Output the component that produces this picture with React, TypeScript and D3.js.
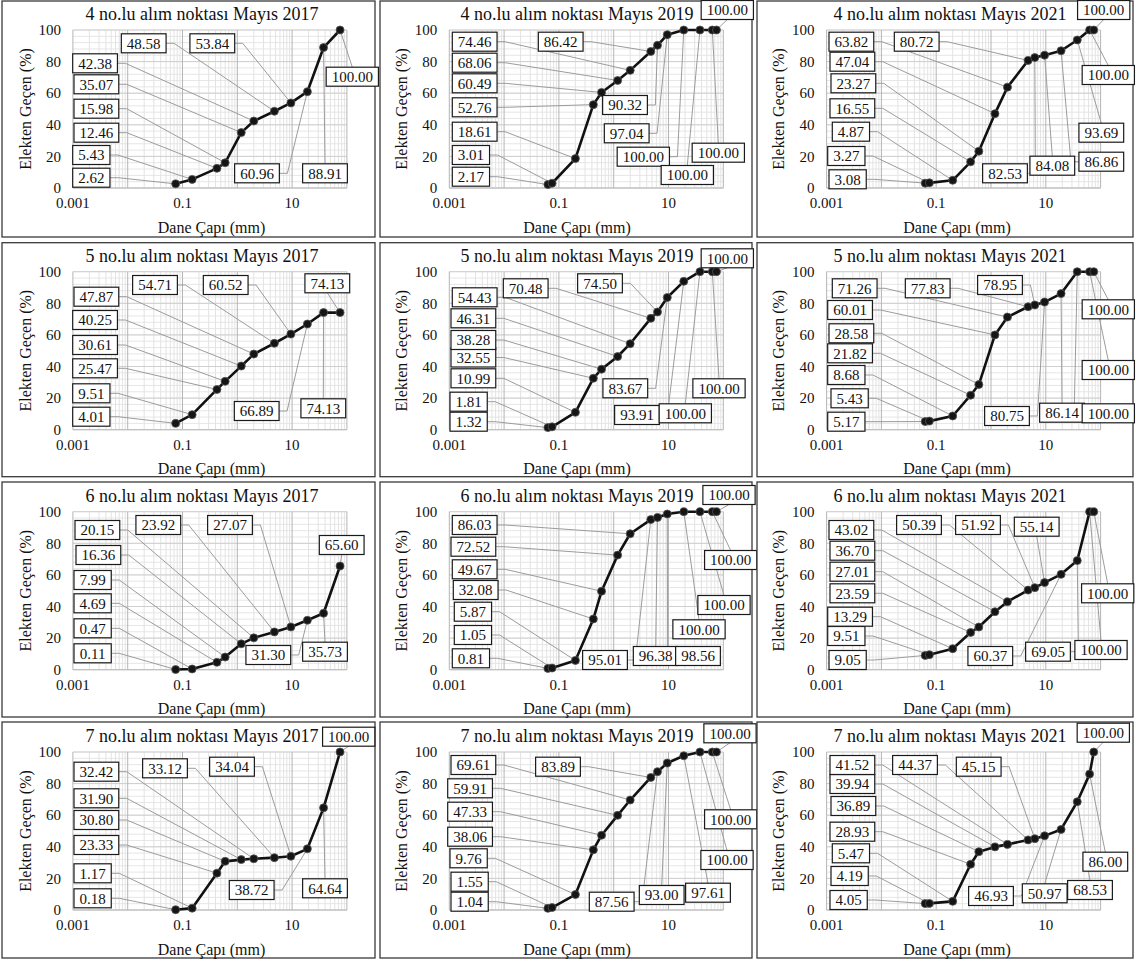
import React from "react";
import * as d3 from "d3";

// ---------- DATA ----------
const STATIONS = ["4", "5", "6", "7"];
const YEARS = ["2017", "2019", "2021"];

// sieve openings (mm)
const SIEVES_2017 = [0.075, 0.15, 0.425, 0.6, 1.18, 2, 4.75, 9.5, 19, 37.5, 75];
const SIEVES_2019_2021 = [0.063, 0.075, 0.2, 0.425, 0.6, 1.18, 2, 4.75, 6.3, 9.5, 19, 37.5, 63, 75];

const P4_2017 = [2.62, 5.43, 12.46, 15.98, 35.07, 42.38, 48.58, 53.84, 60.96, 88.91, 100.0];
const P4_2019 = [2.17, 3.01, 18.61, 52.76, 60.49, 68.06, 74.46, 86.42, 90.32, 97.04, 100, 100, 100, 100];
const P4_2021 = [3.08, 3.27, 4.87, 16.55, 23.27, 47.04, 63.82, 80.72, 82.53, 84.08, 86.86, 93.69, 100, 100];
const P5_2017 = [4.01, 9.51, 25.47, 30.61, 40.25, 47.87, 54.71, 60.52, 66.89, 74.13, 74.13];
const P5_2019 = [1.32, 1.81, 10.99, 32.55, 38.28, 46.31, 54.43, 70.48, 74.5, 83.67, 93.91, 100, 100, 100];
const P5_2021 = [5.17, 5.43, 8.68, 21.82, 28.58, 60.01, 71.26, 77.83, 78.95, 80.75, 86.14, 100, 100, 100];
const P6_2017 = [0.11, 0.47, 4.69, 7.99, 16.36, 20.15, 23.92, 27.07, 31.3, 35.73, 65.6];
const P6_2019 = [0.81, 1.05, 5.87, 32.08, 49.67, 72.52, 86.03, 95.01, 96.38, 98.56, 100, 100, 100, 100];
const P6_2021 = [9.05, 9.51, 13.29, 23.59, 27.01, 36.7, 43.02, 50.39, 51.92, 55.14, 60.37, 69.05, 100, 100];
const P7_2017 = [0.18, 1.17, 23.33, 30.8, 31.9, 32.42, 33.12, 34.04, 38.72, 64.64, 100];
const P7_2019 = [1.04, 1.55, 9.76, 38.06, 47.33, 59.91, 69.61, 83.89, 87.56, 93.0, 97.61, 100, 100, 100];
const P7_2021 = [4.05, 4.19, 5.47, 28.93, 36.89, 39.94, 41.52, 44.37, 45.15, 46.93, 50.97, 68.53, 86.0, 100];

const SERIES = [
  [P4_2017, P4_2019, P4_2021],
  [P5_2017, P5_2019, P5_2021],
  [P6_2017, P6_2019, P6_2021],
  [P7_2017, P7_2019, P7_2021],
];

const Y_TICKS = [0, 20, 40, 60, 80, 100];
const X_TICKS = [0.001, 0.1, 10];
const X_TICK_LABELS = ["0.001", "0.1", "10"];

// ---------- LAYOUT (data-label placement, panel-relative px) ----------
type Lab = [number, number, number, string?];
const LABELS: Lab[][][] = [
  [
    [[0, 72.7, 177.7, "l"], [1, 72.7, 155, "l"], [2, 74, 132.7, "l"], [3, 74, 108.7, "l"], [4, 74, 84.3, "l"], [5, 72.7, 63.3, "l"], [6, 143.7, 43.3], [7, 212.3, 43.3], [8, 257, 173.3], [9, 325, 173.3], [10, 352.3, 76.7]],
    [[0, 77.3, 176.7, "l"], [1, 77.3, 155, "l"], [2, 77.3, 131.7, "l"], [3, 77.3, 107.3, "l"], [4, 77.3, 83.3, "l"], [5, 77.3, 62.7, "l"], [6, 77.3, 41.7, "l"], [7, 185.7, 41.7], [8, 250, 105], [9, 251.7, 133.3], [10, 268.3, 156.7], [11, 312.3, 175], [12, 343.3, 152.7], [13, 352.3, 10]],
    [[0, 74, 179.3, "l"], [1, 72.7, 156, "l"], [2, 77.3, 131.7, "l"], [3, 75, 108.3, "l"], [4, 76, 83.3, "l"], [5, 75, 61.7, "l"], [6, 74, 41.7, "l"], [7, 161.7, 41.7], [8, 250, 173.3], [9, 297.3, 165.7], [10, 346.3, 161.7], [11, 346.3, 132.7], [12, 353.3, 75], [13, 348.7, 10]],
  ],
  [
    [[0, 72.7, 176.7, "l"], [1, 72.7, 153.3, "l"], [2, 72.7, 128.3, "l"], [3, 72.7, 105, "l"], [4, 72.7, 80, "l"], [5, 74, 56.7, "l"], [6, 155, 45], [7, 225.7, 45], [8, 256.7, 171], [9, 323.3, 168.3], [10, 327.3, 43.3]],
    [[0, 75, 181.7, "l"], [1, 75, 161.7, "l"], [2, 76, 138.3, "l"], [3, 76, 117.5, "l"], [4, 76, 100, "l"], [5, 76, 78.3, "l"], [6, 77.3, 57.3, "l"], [7, 150.7, 48.3], [8, 225, 43.3], [9, 250.3, 148.3], [10, 262, 175], [11, 310.3, 173.3], [12, 344, 148.3], [13, 352.3, 18.3]],
    [[0, 72.7, 181.7, "l"], [1, 76, 158.3, "l"], [2, 72.7, 135, "l"], [3, 72.7, 113.3, "l"], [4, 74, 93.3, "l"], [5, 72.7, 70, "l"], [6, 77.3, 48.3, "l"], [7, 172.7, 48.3], [8, 245, 45], [9, 252, 176], [10, 307, 172.7], [11, 353.3, 173.3], [12, 353.3, 130], [13, 353.3, 69.3]],
  ],
  [
    [[0, 74, 173.3, "l"], [1, 74, 148.3, "l"], [2, 74, 123.3, "l"], [3, 74, 100, "l"], [4, 76, 75, "l"], [5, 75, 50, "l"], [6, 158.3, 45], [7, 230, 45], [8, 268.3, 175], [9, 325, 171.7], [10, 341.7, 65]],
    [[0, 77.3, 178.3, "l"], [1, 79.3, 155, "l"], [2, 79.3, 131.7, "l"], [3, 78.3, 110, "l"], [4, 77.3, 89.3, "l"], [5, 76, 66.7, "l"], [6, 77.3, 45, "l"], [7, 230, 180], [8, 280.7, 176], [9, 323, 176], [10, 324, 149.3], [11, 349, 125], [12, 355.7, 80], [13, 354, 15]],
    [[0, 74, 180, "l"], [1, 72.7, 156, "l"], [2, 72.7, 136.7, "l"], [3, 75, 113.3, "l"], [4, 75, 91.7, "l"], [5, 75, 70.7, "l"], [6, 74, 50, "l"], [7, 164, 45], [8, 223, 45], [9, 281.7, 46.7], [10, 235.3, 176], [11, 293, 171.7], [12, 346, 170], [13, 352.7, 113.3]],
  ],
  [
    [[0, 74, 178.3, "l"], [1, 74, 153.3, "l"], [2, 74, 125, "l"], [3, 74, 100, "l"], [4, 74, 78.3, "l"], [5, 74, 51.7, "l"], [6, 165, 48.3], [7, 232, 46.7], [8, 251.7, 170], [9, 325, 168.3], [10, 348.7, 16.7]],
    [[0, 76, 181.7, "l"], [1, 76, 161.7, "l"], [2, 75, 138.3, "l"], [3, 72.7, 116.7, "l"], [4, 72.7, 91.7, "l"], [5, 72.7, 68.3, "l"], [6, 76, 45, "l"], [7, 183, 46.7], [8, 236.7, 181.7], [9, 286.7, 175], [10, 333, 172.7], [11, 352, 140], [12, 355.7, 99.3], [13, 355, 13.3]],
    [[0, 75, 180, "l"], [1, 76, 156, "l"], [2, 77.3, 133.3, "l"], [3, 75, 111.7, "l"], [4, 76, 86, "l"], [5, 75, 64, "l"], [6, 75, 45, "l"], [7, 160, 45], [8, 223.7, 46.7], [9, 236, 176], [10, 289.7, 173.3], [11, 335, 170], [12, 350.3, 141.7], [13, 348.3, 12.7]],
  ],
];

const W = 1136;
const H = 962;
const COL_OFF = [0, 375, 755];
const ROW_OFF = [0, 240, 480, 720];
const COL_X1MM = [237.3, 238.7, 236];
const DECADE = 54.8;
const ROW_Y100 = [30, 31.7, 31.7, 32];
const PLOT_H = 158;
const TITLE_CX = [202, 202, 195];
const XTITLE_CX = [211.5, 202, 202];
const FRAME_X = [[2, 375], [5, 377], [2, 378]];
const FRAME_Y = [[1, 237], [2.7, 236.7], [2, 237], [2, 238]];
const FONT = "'Liberation Serif', 'Times New Roman', serif";
const LAB_FS = 15;
const TICK_FS = 15;
const BOX_H = 19;

function textW(s: string, fs: number) {
  let w = 0;
  for (const ch of s) w += ch === "." ? 0.25 : 0.5;
  return w * fs;
}

function Panel({ r, c }: { r: number; c: number }) {
  const values = SERIES[r][c];
  const sieves = c === 0 ? SIEVES_2017 : SIEVES_2019_2021;
  const x1 = COL_X1MM[c];
  const x = d3.scaleLog().domain([0.001, 100]).range([x1 - 3 * DECADE, x1 + 2 * DECADE]);
  const y100 = ROW_Y100[r];
  const y = d3.scaleLinear().domain([0, 100]).range([y100 + PLOT_H, y100]);
  const [x0p, x1p] = x.range();
  const [y0p, y1p] = y.range();
  const pts = values.map((v, i) => [x(sieves[i]), y(v)] as [number, number]);
  const line = d3.line()(pts) || "";

  const minorX: number[] = [];
  for (let d = -3; d < 2; d++) for (let k = 2; k <= 9; k++) minorX.push(k * Math.pow(10, d));
  const majorX = [0.001, 0.01, 0.1, 1, 10, 100];
  const minorY = d3.range(0, 101, 4);

  const labels = LABELS[r][c];
  const title = `${STATIONS[r]} no.lu alım noktası Mayıs ${YEARS[c]}`;

  return (
    <g transform={`translate(${COL_OFF[c]},${ROW_OFF[r]})`}>
      <rect
        x={FRAME_X[c][0]}
        y={FRAME_Y[r][0]}
        width={FRAME_X[c][1] - FRAME_X[c][0]}
        height={FRAME_Y[r][1] - FRAME_Y[r][0]}
        fill="#fff"
        stroke="#3a3a3a"
        strokeWidth={1.3}
      />
      {/* grid */}
      {minorY.map((v) => (
        <line key={"hy" + v} x1={x0p} x2={x1p} y1={y(v)} y2={y(v)} stroke="#e6e6e6" strokeWidth={1} />
      ))}
      {minorX.map((v) => (
        <line key={"mx" + v} x1={x(v)} x2={x(v)} y1={y0p} y2={y1p} stroke="#e3e3e3" strokeWidth={1} />
      ))}
      {Y_TICKS.map((v) => (
        <line key={"My" + v} x1={x0p} x2={x1p} y1={y(v)} y2={y(v)} stroke="#cfcfcf" strokeWidth={1} />
      ))}
      {majorX.map((v) => (
        <line key={"Mx" + v} x1={x(v)} x2={x(v)} y1={y0p} y2={y1p} stroke="#b5b5b5" strokeWidth={1} />
      ))}
      <line x1={x0p} x2={x1p} y1={y0p} y2={y0p} stroke="#bdbdbd" strokeWidth={1} />
      {/* axes text */}
      {Y_TICKS.map((v) => (
        <text key={"yt" + v} x={x0p - 12} y={y(v)} dy="0.35em" textAnchor="end" fontSize={TICK_FS} fontFamily={FONT} fill="#111">
          {v}
        </text>
      ))}
      {X_TICKS.map((v, i) => (
        <text key={"xt" + v} x={x(v)} y={y0p + 15} dy="0.35em" textAnchor="middle" fontSize={TICK_FS} fontFamily={FONT} fill="#111">
          {X_TICK_LABELS[i]}
        </text>
      ))}
      <text x={XTITLE_CX[c]} y={y0p + 39} dy="0.35em" textAnchor="middle" fontSize={16} fontFamily={FONT} fill="#111">
        Dane Çapı (mm)
      </text>
      <text
        transform={`translate(${x0p - 48},${(y0p + y1p) / 2}) rotate(-90)`}
        dy="0.35em"
        textAnchor="middle"
        fontSize={16}
        fontFamily={FONT}
        fill="#111"
      >
        Elekten Geçen (%)
      </text>
      <text x={TITLE_CX[c]} y={y1p - 16} dy="0.35em" textAnchor="middle" fontSize={18} fontFamily={FONT} fill="#111">
        {title}
      </text>
      {/* leaders */}
      {labels.map(([idx, lx, ly, al], k) => {
        const txt = values[idx].toFixed(2);
        const w = textW(txt, LAB_FS) + 11;
        const left = al === "l" ? lx : lx - w / 2;
        const right = left + w;
        const cx = left + w / 2;
        const top = ly - BOX_H / 2;
        const bot = ly + BOX_H / 2;
        const [px, py] = pts[idx];
        let d: string;
        if (px > right + 4) d = `M${right},${ly}H${right + 8}L${px},${py}`;
        else if (px < left - 4) d = `M${left},${ly}H${left - 8}L${px},${py}`;
        else if (py < top) d = `M${cx},${top}L${px},${py}`;
        else d = `M${cx},${bot}L${px},${py}`;
        return <path key={"ld" + k} d={d} fill="none" stroke="#9c9c9c" strokeWidth={1} />;
      })}
      {/* series */}
      <path d={line} fill="none" stroke="#111" strokeWidth={2.6} strokeLinejoin="round" />
      {pts.map(([px, py], i) => (
        <circle key={"pt" + i} cx={px} cy={py} r={4} fill="#151515" stroke="#555" strokeWidth={0.8} />
      ))}
      {/* label boxes */}
      {labels.map(([idx, lx, ly, al], k) => {
        const txt = values[idx].toFixed(2);
        const w = textW(txt, LAB_FS) + 11;
        const left = al === "l" ? lx : lx - w / 2;
        return (
          <g key={"lb" + k}>
            <rect x={left} y={ly - BOX_H / 2} width={w} height={BOX_H} fill="#fff" stroke="#1a1a1a" strokeWidth={1.2} />
            <text x={left + w / 2} y={ly} dy="0.35em" textAnchor="middle" fontSize={LAB_FS} fontFamily={FONT} fill="#111">
              {txt}
            </text>
          </g>
        );
      })}
    </g>
  );
}

export default function App() {
  return (
    <svg
      width={W}
      height={H}
      viewBox={`0 0 ${W} ${H}`}
      style={{ position: "absolute", left: 0, top: 0, background: "#fff" }}
    >
      <rect width={W} height={H} fill="#fff" />
      {STATIONS.map((_, r) => YEARS.map((__, c) => <Panel key={`${r}-${c}`} r={r} c={c} />))}
    </svg>
  );
}
